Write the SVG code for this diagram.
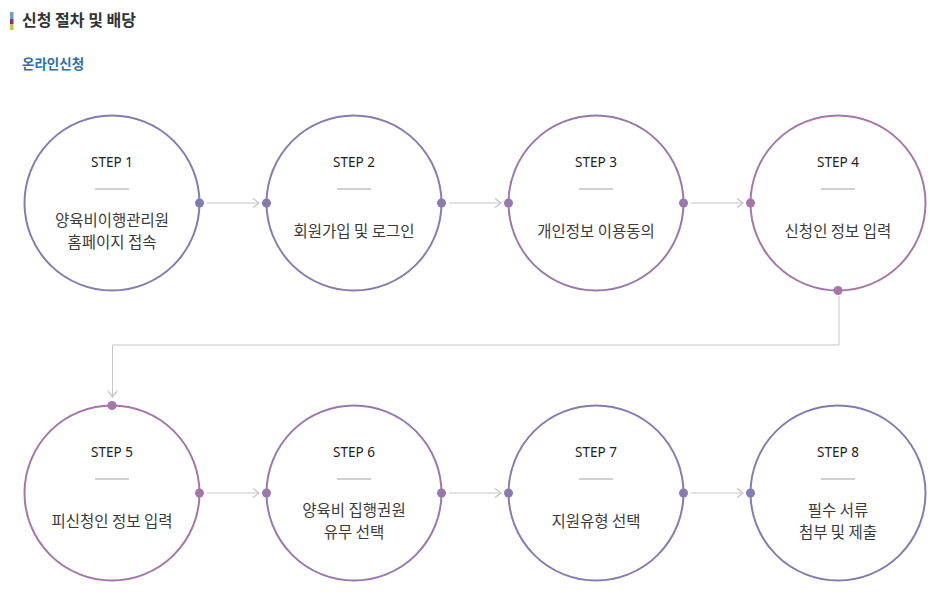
<svg xmlns="http://www.w3.org/2000/svg" width="937" height="614" viewBox="0 0 937 614">
<style>
.title{font-family:"Noto Sans CJK KR","Noto Sans",sans-serif;font-weight:bold;font-size:16px;fill:#333}
.sub{font-family:"Noto Sans CJK KR","Noto Sans",sans-serif;font-weight:bold;font-size:13.5px;fill:#2e6eae}
.step{font-family:"Noto Sans","Noto Sans CJK KR",sans-serif;font-size:13.5px;fill:#222;text-anchor:middle}
.body{font-family:"Noto Sans CJK KR","Noto Sans",sans-serif;font-size:15.5px;fill:#3a3a3a;text-anchor:middle}
.ring{fill:#fff;stroke-width:2}
.sep{stroke:#d0d0d0;stroke-width:2}
.conn{fill:none;stroke:#c6c6c6;stroke-width:1}
</style>
<defs>
<marker id="arr" markerWidth="10" markerHeight="10" refX="8" refY="5" orient="auto" markerUnits="userSpaceOnUse">
<path d="M2,0.5 L8,5 L2,9.5" fill="none" stroke="#c6c6c6" stroke-width="1.3"/>
</marker>
</defs>
<rect width="937" height="614" fill="#fff"/>
<g id="header">
<rect x="10" y="12" width="3.5" height="7" fill="#6d9cc9"/>
<rect x="10" y="19" width="3.5" height="5" fill="#8c2e70"/>
<rect x="10" y="24" width="3.5" height="6" fill="#c8c44c"/>
<text class="title" x="22" y="25.5">신청 절차 및 배당</text>
<text class="sub" x="22" y="68.5">온라인신청</text>
</g>
<g id="connectors">
<line class="conn" x1="207" y1="203" x2="259" y2="203" marker-end="url(#arr)"/>
<line class="conn" x1="449" y1="203" x2="501" y2="203" marker-end="url(#arr)"/>
<line class="conn" x1="691" y1="203" x2="743" y2="203" marker-end="url(#arr)"/>
<polyline class="conn" points="839,296 839,345 112.5,345 112.5,397" marker-end="url(#arr)"/>
<line class="conn" x1="207" y1="493" x2="259" y2="493" marker-end="url(#arr)"/>
<line class="conn" x1="449" y1="493" x2="501" y2="493" marker-end="url(#arr)"/>
<line class="conn" x1="691" y1="493" x2="743" y2="493" marker-end="url(#arr)"/>
</g>
<g id="step1">
<circle class="ring" cx="112" cy="203" r="87.5" stroke="#807eb0"/>
<circle cx="199.5" cy="203" r="4.5" fill="#807eb0"/>
<text class="step" x="112" y="166.5">STEP 1</text>
<line class="sep" x1="95" y1="189" x2="129" y2="189"/>
<text class="body" x="112" y="225.5">양육비이행관리원</text>
<text class="body" x="112" y="247.5">홈페이지 접속</text>
</g>
<g id="step2">
<circle class="ring" cx="354" cy="203" r="87.5" stroke="#8a7bae"/>
<circle cx="266.5" cy="203" r="4.5" fill="#8a7bae"/>
<circle cx="441.5" cy="203" r="4.5" fill="#8a7bae"/>
<text class="step" x="354" y="166.5">STEP 2</text>
<line class="sep" x1="337" y1="189" x2="371" y2="189"/>
<text class="body" x="354" y="237">회원가입 및 로그인</text>
</g>
<g id="step3">
<circle class="ring" cx="596" cy="203" r="87.5" stroke="#9879ab"/>
<circle cx="508.5" cy="203" r="4.5" fill="#9879ab"/>
<circle cx="683.5" cy="203" r="4.5" fill="#9879ab"/>
<text class="step" x="596" y="166.5">STEP 3</text>
<line class="sep" x1="579" y1="189" x2="613" y2="189"/>
<text class="body" x="596" y="237">개인정보 이용동의</text>
</g>
<g id="step4">
<circle class="ring" cx="838" cy="203" r="87.5" stroke="#a577a8"/>
<circle cx="750.5" cy="203" r="4.5" fill="#a577a8"/>
<circle cx="838" cy="290.5" r="4.5" fill="#a577a8"/>
<text class="step" x="838" y="166.5">STEP 4</text>
<line class="sep" x1="821" y1="189" x2="855" y2="189"/>
<text class="body" x="838" y="237">신청인 정보 입력</text>
</g>
<g id="step5">
<circle class="ring" cx="112" cy="493" r="87.5" stroke="#a577a8"/>
<circle cx="112" cy="405.5" r="4.5" fill="#a577a8"/>
<circle cx="199.5" cy="493" r="4.5" fill="#a577a8"/>
<text class="step" x="112" y="456.5">STEP 5</text>
<line class="sep" x1="95" y1="479" x2="129" y2="479"/>
<text class="body" x="112" y="527">피신청인 정보 입력</text>
</g>
<g id="step6">
<circle class="ring" cx="354" cy="493" r="87.5" stroke="#9879ab"/>
<circle cx="266.5" cy="493" r="4.5" fill="#9879ab"/>
<circle cx="441.5" cy="493" r="4.5" fill="#9879ab"/>
<text class="step" x="354" y="456.5">STEP 6</text>
<line class="sep" x1="337" y1="479" x2="371" y2="479"/>
<text class="body" x="354" y="515.5">양육비 집행권원</text>
<text class="body" x="354" y="537.5">유무 선택</text>
</g>
<g id="step7">
<circle class="ring" cx="596" cy="493" r="87.5" stroke="#8a7bae"/>
<circle cx="508.5" cy="493" r="4.5" fill="#8a7bae"/>
<circle cx="683.5" cy="493" r="4.5" fill="#8a7bae"/>
<text class="step" x="596" y="456.5">STEP 7</text>
<line class="sep" x1="579" y1="479" x2="613" y2="479"/>
<text class="body" x="596" y="527">지원유형 선택</text>
</g>
<g id="step8">
<circle class="ring" cx="838" cy="493" r="87.5" stroke="#807eb0"/>
<circle cx="750.5" cy="493" r="4.5" fill="#807eb0"/>
<text class="step" x="838" y="456.5">STEP 8</text>
<line class="sep" x1="821" y1="479" x2="855" y2="479"/>
<text class="body" x="838" y="515.5">필수 서류</text>
<text class="body" x="838" y="537.5">첨부 및 제출</text>
</g>
</svg>
